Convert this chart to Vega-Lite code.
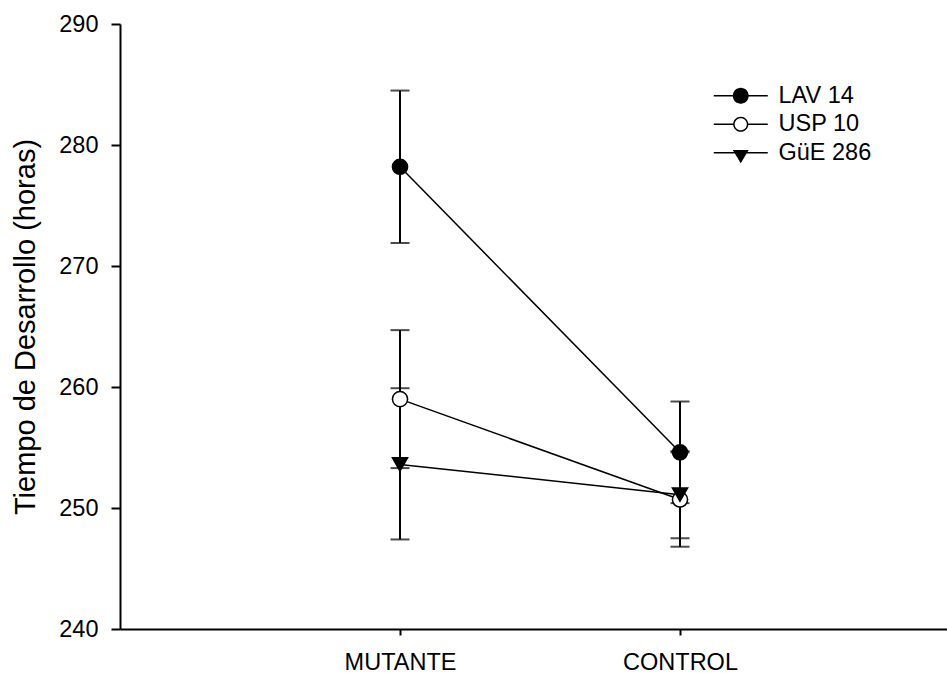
{
  "$schema": "https://vega.github.io/schema/vega-lite/v6.json",
  "width": 827,
  "height": 605,
  "autosize": {"type": "none"},
  "padding": {"left": 120, "top": 24, "right": 0, "bottom": 44},
  "background": "white",
  "config": {
    "view": {"stroke": null},
    "font": "Liberation Sans",
    "axis": {
      "grid": false,
      "domainColor": "black",
      "tickColor": "black",
      "labelColor": "black",
      "titleColor": "black",
      "domainWidth": 2,
      "tickWidth": 2,
      "labelFont": "Liberation Sans",
      "titleFont": "Liberation Sans"
    }
  },
  "data": {
    "values": [
      {"serie": "LAV 14", "grupo": "MUTANTE", "media": 278.2, "inferior": 271.9, "superior": 284.5},
      {"serie": "LAV 14", "grupo": "CONTROL", "media": 254.6, "inferior": 250.4, "superior": 258.8},
      {"serie": "USP 10", "grupo": "MUTANTE", "media": 259.0, "inferior": 253.3, "superior": 264.7},
      {"serie": "USP 10", "grupo": "CONTROL", "media": 250.7, "inferior": 246.8, "superior": 254.6},
      {"serie": "GüE 286", "grupo": "MUTANTE", "media": 253.6, "inferior": 247.4, "superior": 259.9},
      {"serie": "GüE 286", "grupo": "CONTROL", "media": 251.1, "inferior": 247.5, "superior": 254.7}
    ]
  },
  "encoding": {
    "x": {
      "field": "grupo",
      "type": "nominal",
      "scale": {"type": "point", "domain": ["MUTANTE", "CONTROL"], "padding": 0.9768, "align": 0.5119},
      "axis": {"title": null, "labelAngle": 0, "labelFontSize": 23.5, "tickSize": 6, "labelPadding": 15}
    }
  },
  "resolve": {"scale": {"shape": "independent"}, "legend": {"shape": "independent"}},
  "layer": [
    {
      "mark": {"type": "rule", "color": "black", "strokeWidth": 2},
      "encoding": {
        "y": {
          "field": "inferior",
          "type": "quantitative",
          "scale": {"domain": [240, 290], "nice": false, "zero": false},
          "axis": {
            "title": "Tiempo de Desarrollo (horas)",
            "values": [240, 250, 260, 270, 280, 290],
            "tickSize": 9,
            "labelPadding": 13,
            "labelFontSize": 23.5,
            "titleFontSize": 29,
            "titleFontWeight": "normal",
            "titlePadding": 18
          }
        },
        "y2": {"field": "superior"}
      }
    },
    {
      "mark": {"type": "tick", "orient": "horizontal", "color": "black", "size": 19, "thickness": 2},
      "encoding": {"y": {"field": "superior", "type": "quantitative"}}
    },
    {
      "mark": {"type": "tick", "orient": "horizontal", "color": "black", "size": 19, "thickness": 2},
      "encoding": {"y": {"field": "inferior", "type": "quantitative"}}
    },
    {
      "mark": {"type": "line", "color": "black", "strokeWidth": 1.5},
      "encoding": {
        "y": {"field": "media", "type": "quantitative"},
        "detail": {"field": "serie"}
      }
    },
    {
      "mark": {"type": "point", "filled": true, "color": "black", "stroke": "black", "strokeWidth": 1.5, "size": 230, "opacity": 1},
      "encoding": {
        "y": {"field": "media", "type": "quantitative"},
        "shape": {
          "field": "serie",
          "type": "nominal",
          "scale": {"domain": ["LAV 14", "USP 10", "GüE 286"], "range": ["circle", "circle", "triangle-down"]},
          "legend": null
        },
        "fill": {
          "field": "serie",
          "type": "nominal",
          "scale": {"domain": ["LAV 14", "USP 10", "GüE 286"], "range": ["black", "white", "black"]},
          "legend": null
        }
      }
    },
    {
      "mark": {"type": "point", "filled": true, "color": "black", "size": 0},
      "encoding": {
        "y": {"field": "media", "type": "quantitative"},
        "shape": {
          "field": "serie",
          "type": "nominal",
          "scale": {
            "domain": ["LAV 14", "USP 10", "GüE 286"],
            "range": [
              "M-3.375,-0.094H3.375V0.094H-3.375Z M-1,0A1,1,0,1,1,1,0A1,1,0,1,1,-1,0Z",
              "M-3.375,-0.094H-0.95V0.094H-3.375Z M0.95,-0.094H3.375V0.094H0.95Z M-0.95,0A0.95,0.95,0,1,1,0.95,0A0.95,0.95,0,1,1,-0.95,0Z M-0.76,0A0.76,0.76,0,1,0,0.76,0A0.76,0.76,0,1,0,-0.76,0Z",
              "M-3.375,-0.094H3.375V0.094H-3.375Z M-1,-0.35H1L0,1.3Z"
            ]
          },
          "legend": {
            "title": null,
            "orient": "none",
            "legendX": 609,
            "legendY": 60,
            "symbolSize": 256,
            "symbolFillColor": "black",
            "symbolStrokeWidth": 0,
            "symbolOpacity": 1,
            "labelFontSize": 23.5,
            "labelFont": "Liberation Sans",
            "labelColor": "black",
            "labelOffset": 26,
            "rowPadding": 3.5
          }
        }
      }
    }
  ]
}
